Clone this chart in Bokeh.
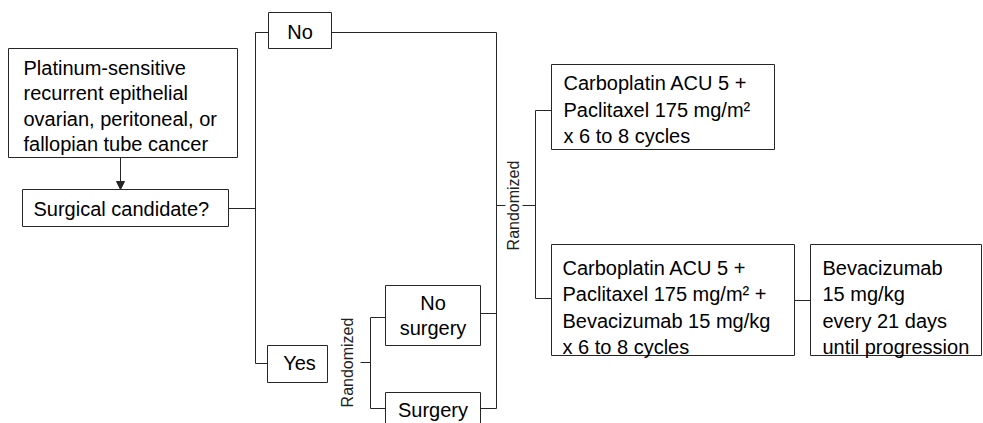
from math import pi
from bokeh.plotting import figure
from bokeh.models import Range1d, Arrow, NormalHead
from bokeh.core.properties import value
from bokeh.embed import file_html
from bokeh.resources import INLINE

# ---- texts (content) ----
platinum_lines = ["Platinum-sensitive", "recurrent epithelial", "ovarian, peritoneal, or", "fallopian tube cancer"]
candidate_lines = ["Surgical candidate?"]
no_lines = ["No"]
yes_lines = ["Yes"]
no_surgery_lines = ["No", "surgery"]
surgery_lines = ["Surgery"]
randomized_label = "Randomized"
arm1_lines = ["Carboplatin ACU 5 +", "Paclitaxel 175 mg/m\u00b2", "x 6 to 8 cycles"]
arm2_lines = ["Carboplatin ACU 5 +", "Paclitaxel 175 mg/m\u00b2 +", "Bevacizumab 15 mg/kg", "x 6 to 8 cycles"]
maint_lines = ["Bevacizumab", "15 mg/kg", "every 21 days", "until progression"]

# ---- layout (page pixel coordinates) ----
# (lines, left, right, top, bottom, text_x, first_y, step, align)
boxes = [
    (platinum_lines, 8, 237, 48, 157, 23, 67.5, 25.3, "left"),
    (candidate_lines, 22, 228, 189, 226, 33, 208, 25.3, "left"),
    (no_lines, 268, 331, 12, 48, 299.5, 31, 25.3, "center"),
    (yes_lines, 267, 327, 345, 382, 299, 362.5, 25.3, "center"),
    (no_surgery_lines, 385, 480, 285, 345, 432.5, 302, 25.3, "center"),
    (surgery_lines, 385, 480, 392, 440, 432.5, 409, 25.3, "center"),
    (arm1_lines, 551, 774, 64, 149, 563, 82.5, 26.5, "left"),
    (arm2_lines, 551, 794, 244, 355, 562, 267.5, 26.3, "left"),
    (maint_lines, 810, 981, 244, 355, 822, 267.5, 26.3, "left"),
]

segments = [
    (228, 208, 255, 208), (255, 32, 255, 363), (255, 32, 268, 32), (255, 363, 267, 363),
    (331, 32, 496, 32), (496, 32, 496, 408), (480, 313, 496, 313), (480, 408, 496, 408),
    (360, 362, 370, 362), (370, 317, 370, 408), (370, 317, 385, 317), (370, 408, 385, 408),
    (496, 205, 505, 205), (522, 205, 535, 205), (535, 110, 535, 298),
    (535, 110, 551, 110), (535, 298, 551, 298), (794, 300, 810, 300),
]
rand_pos = [(347, 362), (513, 205)]

LINE = "#262626"
FONT = value("Liberation Sans")

p = figure(width=983, height=423, x_range=Range1d(0, 983), y_range=Range1d(423, 0),
           output_backend="svg", toolbar_location=None, min_border=0)
p.axis.visible = False
p.grid.visible = False
p.outline_line_color = None
p.background_fill_color = "white"
p.border_fill_color = "white"

p.segment(x0=[s[0] for s in segments], y0=[s[1] for s in segments],
          x1=[s[2] for s in segments], y1=[s[3] for s in segments],
          line_color=LINE, line_width=1)

p.quad(left=[b[1] for b in boxes], right=[b[2] for b in boxes],
       top=[b[3] for b in boxes], bottom=[b[4] for b in boxes],
       fill_color="white", line_color=LINE, line_width=1)

for lines, l, r, t, b, tx, y0, step, align in boxes:
    p.text(x=[tx] * len(lines), y=[y0 + i * step for i in range(len(lines))], text=lines,
           text_font=FONT, text_font_size="20px", text_color="black",
           text_align=align, text_baseline="middle")

p.text(x=[q[0] for q in rand_pos], y=[q[1] for q in rand_pos], text=[randomized_label] * len(rand_pos),
       angle=pi / 2, text_font=FONT, text_font_size="16px", text_color="#222222",
       text_align="center", text_baseline="middle")

p.add_layout(Arrow(end=NormalHead(size=8, fill_color=LINE, line_color=LINE),
                   x_start=120, y_start=157, x_end=120, y_end=189,
                   line_color=LINE, line_width=1))

open("out.html", "w").write(file_html(p, INLINE))
